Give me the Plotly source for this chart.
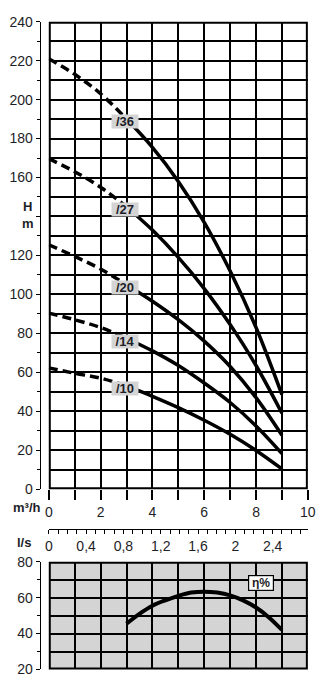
import plotly.graph_objects as go

# Pump performance: head curves for five stage variants, plus efficiency
flow_m3h = [0, 1, 2, 3, 4, 5, 6, 7, 8, 9]

head_36 = [221, 213, 203, 190, 175.5, 158, 137, 112, 83, 48.5]
head_27 = [169.7, 163, 155, 145, 133, 119, 103, 84.5, 63.5, 39]
head_20 = [125.5, 119.5, 113, 105, 96.5, 87, 76, 63, 47, 27.7]
head_14 = [90.4, 87, 83, 77.5, 71, 63.5, 54.5, 44.5, 32.5, 18.3]
head_10 = [62.3, 59.5, 57, 53, 47.7, 41.9, 35.4, 28.2, 19.9, 10.4]
curve_names = ["/36", "/27", "/20", "/14", "/10"]

eff_flow = [3, 3.5, 4, 4.5, 5, 5.5, 6, 6.5, 7, 7.5, 8, 8.5, 9]
eff_pct = [45.5, 51, 55.5, 58.5, 61, 62.8, 63.3, 62.8, 61.3, 58.5, 54.5, 49, 42]

m3h_ticks = [0, 2, 4, 6, 8, 10]
head_ticks = [0, 20, 40, 60, 80, 100, 120, 140, 160, 180, 200, 220, 240]
head_labels = ["0", "20", "40", "60", "80", "100", "120", "",
               "160", "180", "200", "220", "240"]
ls_ticks = [0, 0.4, 0.8, 1.2, 1.6, 2.0, 2.4]
ls_labels = ["0", "0,4", "0,8", "1,2", "1,6", "2", "2,4"]

W, H = 325, 698
FONT = "Liberation Sans Narrow, Arial Narrow, Liberation Sans, Arial"
TXT = "#1e1e28"


def px_x(p):
    return p / W


def px_y(p):
    return 1 - p / H


x_dom = [px_x(46.5), px_x(315.5)]
top_dom = [px_y(492.5), px_y(14)]
bot_dom = [px_y(677), px_y(566.7)]
axis_pos = px_x(37)

fig = go.Figure()

dash_end = 3  # index where the dashed (low-flow) part ends
for name, h in zip(curve_names, [head_36, head_27, head_20, head_14, head_10]):
    fig.add_trace(go.Scatter(
        x=flow_m3h[:dash_end + 1], y=h[:dash_end + 1], mode="lines",
        line=dict(color="black", width=3.5, dash="9px,5px", shape="spline"),
        showlegend=False, hoverinfo="skip", xaxis="x", yaxis="y"))
    fig.add_trace(go.Scatter(
        x=flow_m3h[dash_end:], y=h[dash_end:], mode="lines",
        line=dict(color="black", width=3.5, shape="spline"),
        showlegend=False, name=name, xaxis="x", yaxis="y"))
    fig.add_annotation(
        x=2.95, y=h[dash_end] - 1.5, xref="x", yref="y",
        text="<b>" + name + "</b>", width=26, height=13,
        showarrow=False, bgcolor="#d4d4d4", borderpad=0,
        font=dict(family=FONT, size=13, color=TXT))

# secondary flow scale in l/s
fig.add_trace(go.Scatter(x=[None], y=[None], xaxis="x3", yaxis="y",
                         showlegend=False, hoverinfo="skip"))

# efficiency
fig.add_trace(go.Scatter(
    x=eff_flow, y=eff_pct, mode="lines",
    line=dict(color="black", width=4, shape="spline"),
    showlegend=False, name="η%", xaxis="x2", yaxis="y2"))

fig.add_annotation(
    x=8.19, y=68.4, xref="x2", yref="y2", text="<b>η%</b>", showarrow=False,
    width=22, height=12,
    bgcolor="white", bordercolor="black", borderwidth=1.2, borderpad=1,
    font=dict(family=FONT, size=12, color=TXT))

# frames and grey background of the efficiency panel
fig.add_shape(type="rect", xref="x2", yref="y2", x0=0, x1=10, y0=20, y1=80,
              fillcolor="#d4d4d4", line=dict(width=0), layer="below")
fig.add_shape(type="rect", xref="x", yref="y", x0=0, x1=10, y0=0, y1=240,
              line=dict(color="black", width=4), layer="above")
fig.add_shape(type="rect", xref="x2", yref="y2", x0=0, x1=10, y0=20, y1=80,
              line=dict(color="black", width=4), layer="above")

grid = dict(gridcolor="black", gridwidth=1.5)
tickfont = dict(family=FONT, size=14, color=TXT)

fig.update_layout(
    width=W, height=H, margin=dict(l=0, r=0, t=0, b=0),
    paper_bgcolor="white", plot_bgcolor="white",
    xaxis=dict(domain=x_dom, range=[0, 10], anchor="y",
               tickvals=m3h_ticks, ticks="outside", ticklen=10,
               tickcolor="black", tickwidth=1.5, showline=False,
               showgrid=True, zeroline=False, tickfont=tickfont,
               minor=dict(dtick=1, showgrid=True, ticks="outside",
                          ticklen=10, tickcolor="black", tickwidth=1.5,
                          **grid),
               **grid),
    yaxis=dict(domain=top_dom, range=[0, 240], anchor="free",
               position=axis_pos, tickvals=head_ticks, ticktext=head_labels,
               ticks="outside", ticklen=4,
               tickcolor="black", showline=True, linecolor="black",
               linewidth=1, zeroline=False, showgrid=True, tickfont=tickfont,
               minor=dict(dtick=10, showgrid=True, ticks="outside",
                          ticklen=3, tickcolor="black", **grid),
               **grid),
    xaxis3=dict(domain=x_dom, range=[0, 10 / 3.6], anchor="free",
                overlaying="x", side="bottom", position=px_y(533),
                tickvals=ls_ticks, ticktext=ls_labels, ticks="outside",
                ticklen=4, tickcolor="black", showline=True,
                linecolor="black", linewidth=1.2, showgrid=False,
                zeroline=False, tickfont=tickfont,
                minor=dict(dtick=0.1, ticks="outside", ticklen=4,
                           tickcolor="black")),
    xaxis2=dict(domain=x_dom, range=[0, 10], anchor="y2", dtick=1,
                showticklabels=False, ticks="", showline=False,
                zeroline=False, showgrid=True, **grid),
    yaxis2=dict(domain=bot_dom, range=[20, 80], anchor="free",
                position=axis_pos, dtick=20, ticks="outside", ticklen=4,
                tickcolor="black", showline=True, linecolor="black",
                linewidth=1, zeroline=False, showgrid=True, tickfont=tickfont,
                minor=dict(dtick=10, showgrid=True, ticks="outside",
                           ticklen=3, tickcolor="black", **grid),
                **grid),
)

bold = dict(family=FONT, size=13, color=TXT)
for text, x, y in [("<b>H</b><br><b>m</b>", 25, 212),
                   ("<b>m³/h</b>", 24, 511), ("<b>l/s</b>", 21, 547)]:
    fig.add_annotation(x=px_x(x), y=px_y(y), xref="paper", yref="paper",
                       text=text, showarrow=False, xanchor="center",
                       yanchor="middle", font=bold)

fig.write_html("out.html")
